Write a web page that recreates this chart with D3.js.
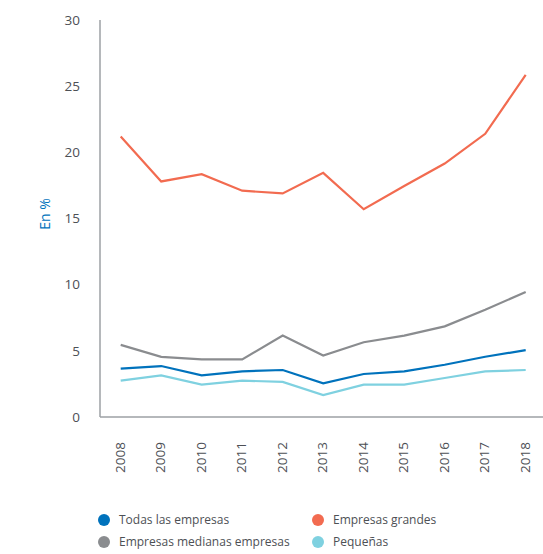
<!DOCTYPE html>
<meta charset="utf-8">
<style>
body { margin: 0; background: #fff; }
.axis text { font: 13.5px "Open Sans", sans-serif; fill: #4d5055; }
.axis path, .axis line { stroke: #9da1a5; stroke-width: 1.5px; }
.line { fill: none; stroke-width: 2.2px; }
.legend text { font: 12px "Open Sans", sans-serif; fill: #4d5055; }
</style>
<body>
<svg width="543" height="554"></svg>
<script src="https://d3js.org/d3.v7.min.js"></script>
<script>
var years = [2008, 2009, 2010, 2011, 2012, 2013, 2014, 2015, 2016, 2017, 2018];
var todas = [3.65, 3.85, 3.15, 3.45, 3.55, 2.55, 3.25, 3.45, 3.95, 4.55, 5.05];
var grandes = [21.2, 17.8, 18.35, 17.1, 16.9, 18.45, 15.7, 17.45, 19.15, 21.4, 25.85];
var medianas = [5.45, 4.55, 4.35, 4.35, 6.15, 4.65, 5.65, 6.15, 6.85, 8.1, 9.45];
var pequenas = [2.75, 3.15, 2.45, 2.75, 2.65, 1.65, 2.45, 2.45, 2.95, 3.45, 3.55];
var yTicks = [0, 5, 10, 15, 20, 25, 30];

var series = [
  {name: "Todas las empresas", values: todas, color: "#0072bc"},
  {name: "Empresas grandes", values: grandes, color: "#f26b50"},
  {name: "Empresas medianas empresas", values: medianas, color: "#8a8c8f"},
  {name: "Pequeñas", values: pequenas, color: "#7fd1e0"}
];

var svg = d3.select("svg"),
    margin = {top: 20, right: 0, bottom: 137, left: 100},
    width = +svg.attr("width") - margin.left - margin.right,
    height = +svg.attr("height") - margin.top - margin.bottom;

var x = d3.scalePoint().domain(years).range([20.7, 425.7]);
var y = d3.scaleLinear().domain([0, 30]).range([height, 0]);

var g = svg.append("g")
    .attr("transform", "translate(" + margin.left + "," + margin.top + ")");

g.append("g")
    .attr("class", "axis axis--x")
    .attr("transform", "translate(0," + height + ")")
    .call(d3.axisBottom(x).tickSize(0).tickSizeOuter(0))
  .call(function(a) {
    a.select(".domain").attr("d", "M0,0H" + width);
    a.selectAll("text")
      .attr("transform", "rotate(-90)")
      .attr("text-anchor", "end")
      .attr("x", -25)
      .attr("y", -1)
      .attr("dy", ".35em");
  });

g.append("g")
    .attr("class", "axis axis--y")
    .call(d3.axisLeft(y).tickValues(yTicks).tickSize(0).tickPadding(20))
  .call(function(a) {
    a.select(".domain").attr("d", "M0,0V" + height);
  });

svg.append("text")
    .attr("transform", "translate(50,214) rotate(-90)")
    .attr("text-anchor", "middle")
    .style("font", "14px 'Open Sans', sans-serif")
    .attr("fill", "#0072bc")
    .text("En %");

var line = d3.line()
    .x(function(d, i) { return x(years[i]); })
    .y(function(d) { return y(d); });

// draw order: light ones first
[series[3], series[2], series[0], series[1]].forEach(function(s) {
  g.append("path")
      .datum(s.values)
      .attr("class", "line")
      .attr("stroke", s.color)
      .attr("d", line);
});

var legPos = [[104, 520], [318, 520], [104, 542], [318, 542]];
var legend = svg.append("g").attr("class", "legend");
series.forEach(function(s, i) {
  var lg = legend.append("g").attr("transform", "translate(" + legPos[i][0] + "," + legPos[i][1] + ")");
  lg.append("circle").attr("r", 6).attr("fill", s.color);
  lg.append("text").attr("x", 15).attr("dy", ".35em").text(s.name);
});
</script>
